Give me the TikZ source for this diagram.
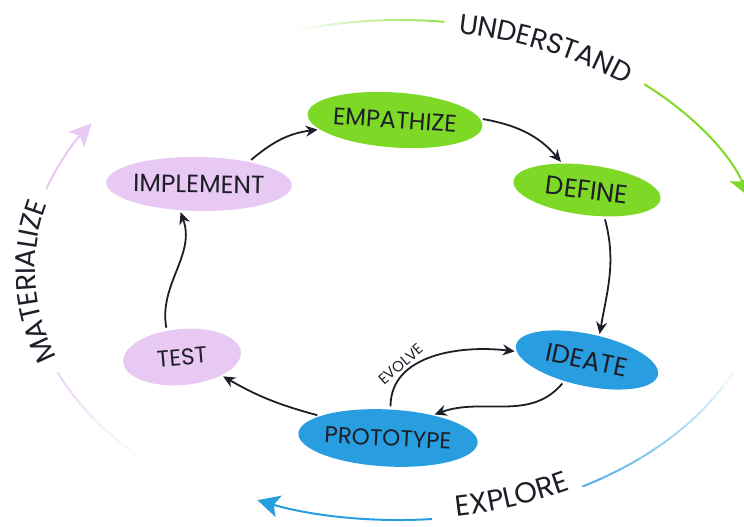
\documentclass[tikz,border=0pt]{standalone}
\usepackage{fontspec}
\setmainfont{Poppins}
\usetikzlibrary{arrows.meta,shapes.geometric,decorations.text}

\definecolor{undgreen}{RGB}{126,217,38}
\definecolor{expblue}{RGB}{40,158,224}
\definecolor{matpurple}{RGB}{231,201,244}
\definecolor{inkdark}{RGB}{30,30,40}

\begin{document}
\begin{tikzpicture}[x=1pt,y=1pt,>={Stealth[length=12pt,width=11pt]},
    phase/.style={ellipse, inner sep=0pt, text=inkdark, font=\fontsize{24}{24}\selectfont},
    flow/.style={->, line width=1.8pt, draw=inkdark, shorten <=3pt, shorten >=2pt},
    stage/.style={line width=2pt},
    stagetip/.style={-{Stealth[length=22pt,width=22pt,inset=5pt]}},
    stagetext/.style={decorate, decoration={text along path, text align=center, text color=inkdark}}]
  \useasboundingbox (0,0) rectangle (744,527);
  \coordinate (c) at (400,257);

  % the six phases
  \node[phase, fill=undgreen, minimum width=166pt, minimum height=55pt, rotate=-4]  (emp) at (395,407) {EMPATHIZE};
  \node[phase, fill=undgreen, minimum width=148pt, minimum height=50pt, rotate=-7,
        font=\fontsize{26}{26}\selectfont]                                          (def) at (587,337) {DEFINE};
  \node[phase, fill=expblue, minimum width=145pt, minimum height=52pt, rotate=-12,
        font=\fontsize{26}{26}\selectfont]                                          (ide) at (587,167) {IDEATE};
  \node[phase, fill=expblue, minimum width=168pt, minimum height=57pt, rotate=-3,
        font=\fontsize{23}{23}\selectfont]                                          (pro) at (388,89)  {PROTOTYPE};
  \node[phase, fill=matpurple, minimum width=118pt, minimum height=56pt, rotate=5,
        font=\fontsize{23}{23}\selectfont]                                          (tst) at (182,170) {TEST};
  \node[phase, fill=matpurple, minimum width=168pt, minimum height=54pt, rotate=-1,
        font=\fontsize{25}{25}\selectfont]                                          (imp) at (199,343) {IMPLEMENT};

  % inner cycle
  \draw[flow] (imp.25) to[out=40,in=190] (emp);
  \draw[flow] (emp.5) to[out=-10,in=130] (def.140);
  \draw[flow] (def.-50) to[out=-75,in=80] (ide.75);
  \draw[flow] (ide.-125) to[out=-130,in=20] (pro.30);
  \draw[flow] (pro.165) to[out=165,in=-30] (tst.-30);
  \draw[flow] (tst.115) to[out=100,in=-70] (imp.-125);
  \draw[flow] (pro.88) to[out=90,in=180]
    node[sloped, above, pos=0.3, font=\fontsize{15}{15}\selectfont, text=inkdark] {EVOLVE} (ide);

  % UNDERSTAND
  \foreach \i [evaluate=\i as \a using 106-2.3*(\i-1),
               evaluate=\i as \b using 106-2.3*\i,
               evaluate=\i as \op using int(8*\i)] in {1,...,10}
    \draw[stage, undgreen!\op] (c) ++({365*cos(\a)},{250*sin(\a)})
      arc[start angle=\a, end angle=\b, x radius=365, y radius=250];
  \path[stagetext, decoration={raise=-10pt, text={|\fontsize{28}{28}\selectfont|UNDERSTAND}}]
    (c) ++({365*cos(84)},{250*sin(84)}) arc[start angle=84, end angle=47, x radius=365, y radius=250];
  \draw[stage, undgreen, stagetip]
    (c) ++({365*cos(48)},{250*sin(48)}) arc[start angle=48, end angle=17, x radius=365, y radius=250];

  % EXPLORE
  \foreach \i [evaluate=\i as \a using -24-3.6*(\i-1),
               evaluate=\i as \b using -24-3.6*\i,
               evaluate=\i as \op using int(8*\i)] in {1,...,10}
    \draw[stage, expblue!\op] (c) ++({365*cos(\a)},{250*sin(\a)})
      arc[start angle=\a, end angle=\b, x radius=365, y radius=250];
  \path[stagetext, decoration={raise=1pt, text={|\fontsize{29}{29}\selectfont|EXPLORE}}]
    (c) ++({365*cos(-83)},{250*sin(-83)}) arc[start angle=-83, end angle=-60, x radius=365, y radius=250];
  \draw[stage, expblue, stagetip]
    (c) ++({365*cos(-85)},{250*sin(-85)}) arc[start angle=-85, end angle=-113, x radius=365, y radius=250];

  % MATERIALIZE
  \foreach \i [evaluate=\i as \a using 226-2.3*(\i-1),
               evaluate=\i as \b using 226-2.3*\i,
               evaluate=\i as \op using int(8*\i)] in {1,...,10}
    \draw[stage, matpurple!\op] (c) ++({372*cos(\a)},{262*sin(\a)})
      arc[start angle=\a, end angle=\b, x radius=372, y radius=262];
  \path[stagetext, decoration={raise=-7pt, text={|\fontsize{28}{28}\selectfont|MATERIALIZE}}]
    (c) ++({372*cos(203)},{262*sin(203)}) arc[start angle=203, end angle=162, x radius=372, y radius=262];
  \draw[stage, matpurple, stagetip]
    (c) ++({372*cos(162)},{262*sin(162)}) arc[start angle=162, end angle=146, x radius=372, y radius=262];
\end{tikzpicture}
\end{document}
